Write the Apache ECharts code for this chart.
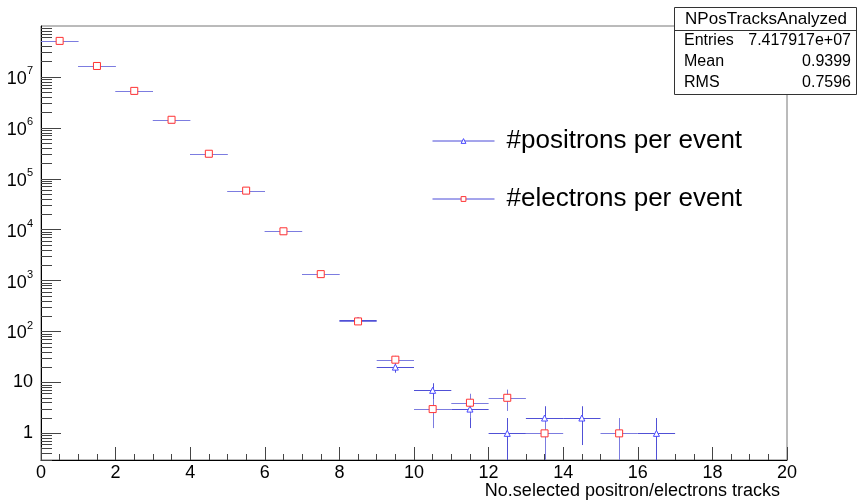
<!DOCTYPE html>
<html>
<head>
<meta charset="utf-8">
<script src="https://cdn.jsdelivr.net/npm/echarts@6/dist/echarts.min.js"></script>
<style>
  html, body { margin: 0; padding: 0; background: #fff; }
  #chart { width: 858px; height: 500px; }
</style>
</head>
<body>
<div id="chart"></div>
<script>
// bin centres (bin width 1)
var binCenters = [0.5, 1.5, 2.5, 3.5, 4.5, 5.5, 6.5, 7.5, 8.5, 9.5, 10.5, 11.5, 12.5, 13.5, 14.5, 15.5, 16.5]
// counts (null = empty bin)
var positrons = [5.1e7, 1.64e7, 5.3e6, 1.44e6, 3.1e5, 5.85e4, 9400, 1350, 166, 20, 7, 3, 1, 2, 2, null, 1]
var electrons = [5.1e7, 1.64e7, 5.32e6, 1.44e6, 3.1e5, 5.85e4, 9300, 1340, 158, 28, 3, 4, 5, 1, null, 1, null]
// vertical error bars
var positronErr = [7141, 4050, 2302, 1200, 557, 242, 97, 37, 12.9, 4.47, 2.65, 1.73, 1, 1.41, 1.41, null, 1]
var electronErr = [7141, 4050, 2307, 1200, 557, 242, 96, 37, 12.6, 5.29, 1.73, 2, 2.24, 1, null, 1, null]

var yMajorTicks = [1, 10, 100, 1e3, 1e4, 1e5, 1e6, 1e7]
var yMinorTicks = [0.3, 0.4, 0.5, 0.6, 0.7, 0.8, 0.9]
yMajorTicks.forEach(function (d) {
  for (var k = 2; k <= 9; k++) yMinorTicks.push(k * d)
})

var statsRows = [['Entries', '7.417917e+07'], ['Mean', '0.9399'], ['RMS', '0.7596']]

var font = 'Liberation Sans'
var posColor = '#4a4aff'
var eleColor = '#ff3333'

function pairs (vals, errs) {
  var out = []
  binCenters.forEach(function (x, i) {
    if (vals[i] != null) out.push([x, vals[i], errs[i]])
  })
  return out
}

function errorBars (color) {
  return function (params, api) {
    var x = api.value(0), y = api.value(1), e = api.value(2)
    var left = api.coord([x - 0.5, y])
    var right = api.coord([x + 0.5, y])
    var lo = api.coord([x, Math.max(y - e, 0.3)])
    var hi = api.coord([x, Math.min(y + e, 1e8)])
    var st = { stroke: color, lineWidth: 1 }
    return {
      type: 'group',
      children: [
        { type: 'line', shape: { x1: left[0], y1: Math.round(left[1]) + 0.5, x2: right[0], y2: Math.round(right[1]) + 0.5 }, style: st },
        { type: 'line', shape: { x1: Math.round(lo[0]) + 0.5, y1: lo[1], x2: Math.round(hi[0]) + 0.5, y2: hi[1] }, style: st }
      ]
    }
  }
}

var chart = echarts.init(document.getElementById('chart'))

var statsGraphic = [
  { type: 'rect', shape: { x: 674.5, y: 7.5, width: 182, height: 87 }, style: { fill: '#fff', stroke: '#333', lineWidth: 1 }, z: 10 },
  { type: 'line', shape: { x1: 674, y1: 30.5, x2: 857, y2: 30.5 }, style: { stroke: '#333', lineWidth: 1 }, z: 10 },
  { type: 'text', x: 766, y: 19, style: { text: 'NPosTracksAnalyzed', font: '17px "' + font + '"', fill: '#000', align: 'center', verticalAlign: 'middle' }, z: 11 }
]
statsRows.forEach(function (r, i) {
  var y = 41 + i * 21
  statsGraphic.push({ type: 'text', x: 684, y: y, style: { text: r[0], font: '16px "' + font + '"', fill: '#000', align: 'left', verticalAlign: 'middle' }, z: 11 })
  statsGraphic.push({ type: 'text', x: 851, y: y, style: { text: r[1], font: '16px "' + font + '"', fill: '#000', align: 'right', verticalAlign: 'middle' }, z: 11 })
})

chart.setOption({
  animation: false,
  backgroundColor: '#fff',
  textStyle: { fontFamily: font },
  grid: {
    left: 41, right: 71, top: 26, bottom: 39,
    show: true, borderColor: '#777', borderWidth: 1, backgroundColor: '#fff'
  },
  legend: {
    orient: 'vertical',
    left: 432,
    top: 128,
    padding: 0,
    itemGap: 32,
    itemWidth: 62,
    itemHeight: 6,
    textStyle: { fontSize: 26, color: '#000', fontFamily: font, padding: [0, 0, 0, 7] },
    lineStyle: { width: 1, opacity: 1, color: '#4a4ad8' },
    data: [
      { name: '#positrons per event', itemStyle: { color: '#fff', borderColor: posColor, borderWidth: 1 } },
      { name: '#electrons per event', itemStyle: { color: '#fff', borderColor: eleColor, borderWidth: 1 } }
    ]
  },
  xAxis: {
    type: 'value',
    min: 0,
    max: 20,
    interval: 2,
    name: 'No.selected positron/electrons tracks',
    nameLocation: 'end',
    nameGap: -7,
    nameTextStyle: { fontSize: 18, color: '#000', align: 'right', verticalAlign: 'top', padding: [22, 0, 0, 0] },
    axisLine: { lineStyle: { color: '#000', width: 1 } },
    axisTick: { inside: true, length: 13, lineStyle: { color: '#444' } },
    minorTick: { show: true, splitNumber: 4, length: 6, lineStyle: { color: '#444' } },
    axisLabel: { fontSize: 18, color: '#000', margin: 4 },
    splitLine: { show: false }
  },
  yAxis: [
    {
      type: 'log',
      logBase: 10,
      min: 0.3,
      max: 1e8,
      axisLine: { lineStyle: { color: '#000', width: 1 } },
      axisTick: { inside: true, length: 20, customValues: yMajorTicks, lineStyle: { color: '#444' } },
      axisLabel: {
        customValues: yMajorTicks,
        margin: 8,
        color: '#000',
        fontSize: 18,
        formatter: function (v) {
          var n = Math.round(Math.log10(v))
          if (n === 0) return '1'
          if (n === 1) return '10'
          return '{b|10}{s|' + n + '}'
        },
        rich: {
          b: { fontSize: 18, color: '#000', verticalAlign: 'bottom', lineHeight: 20 },
          s: { fontSize: 11, color: '#000', verticalAlign: 'top', lineHeight: 22, padding: [0, 0, 10, 0] }
        }
      },
      splitLine: { show: false }
    },
    {
      type: 'log',
      logBase: 10,
      min: 0.3,
      max: 1e8,
      position: 'left',
      axisLine: { show: false },
      axisTick: { inside: true, length: 11, customValues: yMinorTicks, lineStyle: { color: '#444' } },
      axisLabel: { show: false },
      splitLine: { show: false }
    }
  ],
  graphic: statsGraphic,
  series: [
    {
      name: 'positron errors',
      type: 'custom',
      renderItem: errorBars('#5050d6'),
      encode: { x: 0, y: 1 },
      data: pairs(positrons, positronErr),
      z: 2
    },
    {
      name: 'electron errors',
      type: 'custom',
      renderItem: errorBars('#7c7ce0'),
      encode: { x: 0, y: 1 },
      data: pairs(electrons, electronErr),
      z: 2
    },
    {
      name: '#positrons per event',
      type: 'line',
      data: pairs(positrons, positronErr).map(function (d) { return [d[0], d[1]] }),
      symbol: 'triangle',
      symbolSize: 6,
      showAllSymbol: true,
      lineStyle: { width: 0, opacity: 0 },
      itemStyle: { color: '#fff', borderColor: posColor, borderWidth: 1 },
      z: 5
    },
    {
      name: '#electrons per event',
      type: 'line',
      data: pairs(electrons, electronErr).map(function (d) { return [d[0], d[1]] }),
      symbol: 'rect',
      symbolSize: 7,
      showAllSymbol: true,
      lineStyle: { width: 0, opacity: 0 },
      itemStyle: { color: '#fff', borderColor: eleColor, borderWidth: 1 },
      z: 6
    }
  ]
})
</script>
</body>
</html>
